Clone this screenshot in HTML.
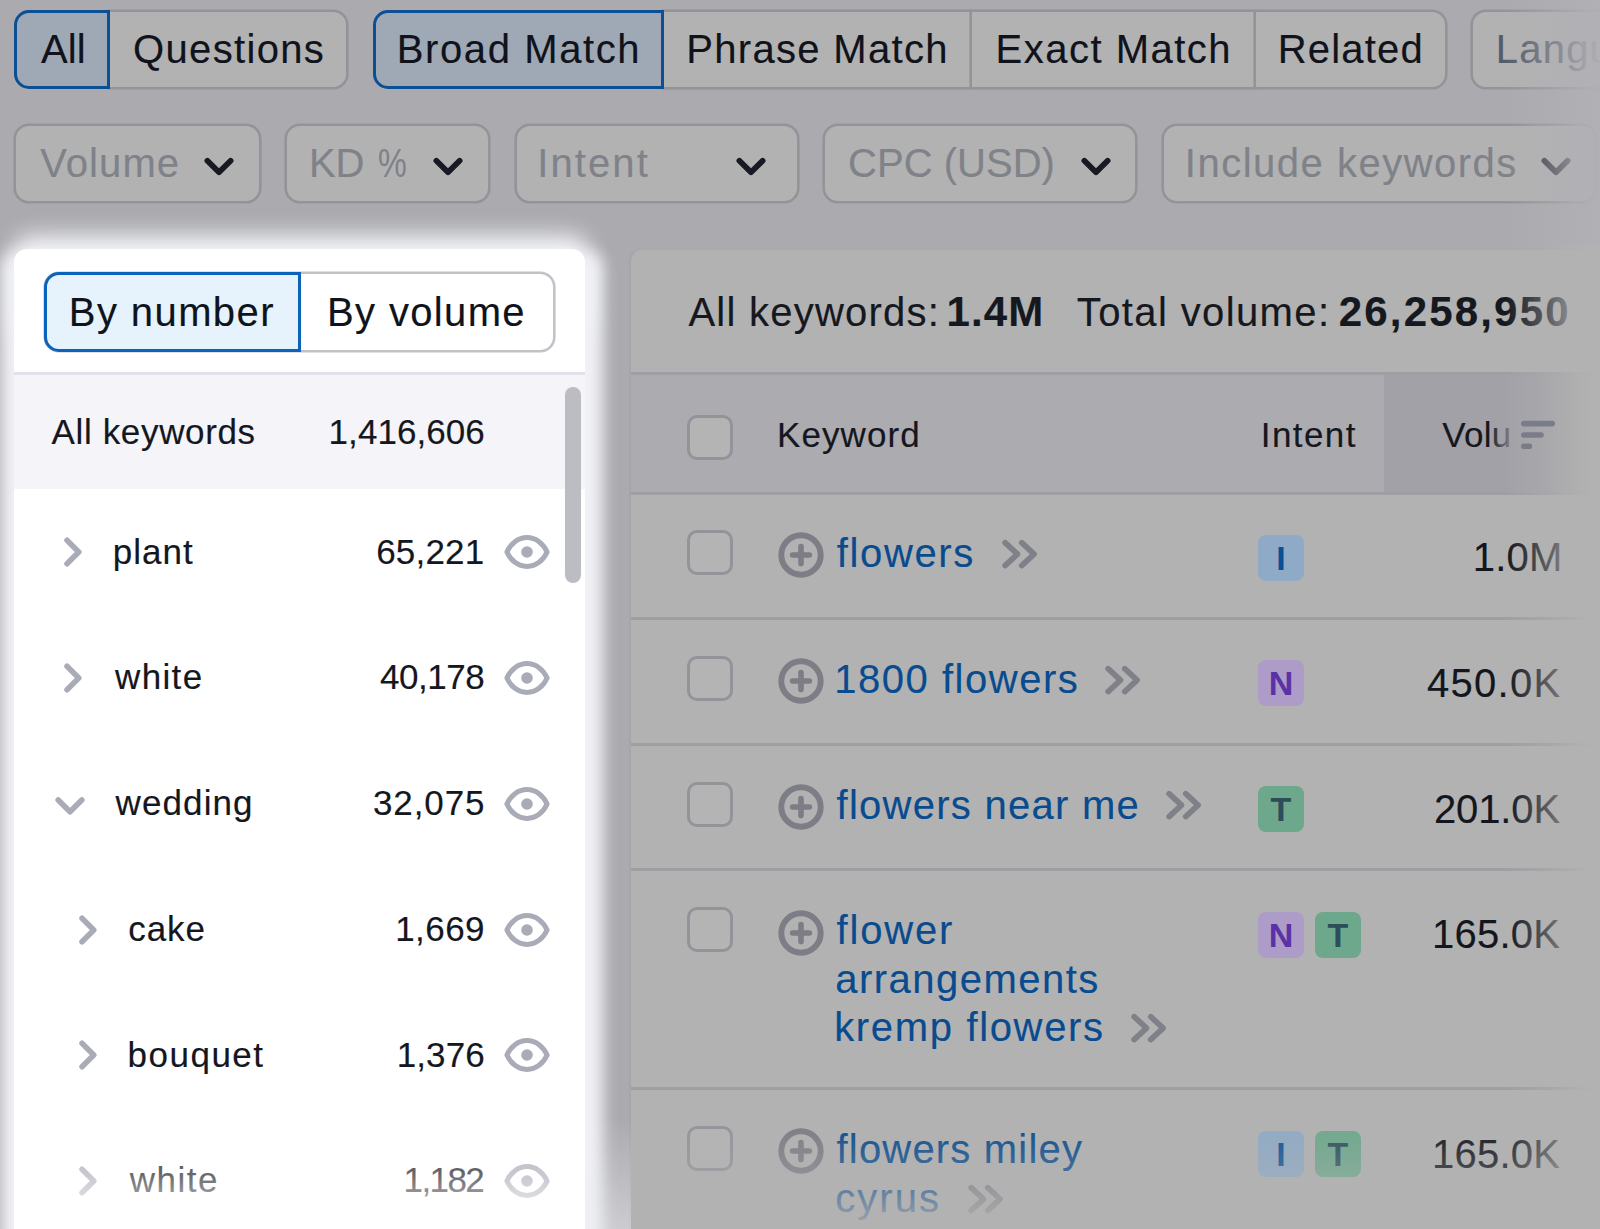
<!DOCTYPE html>
<html lang="en">
<head>
<meta charset="utf-8">
<title>Keyword Magic Tool</title>
<style>
*{box-sizing:border-box;margin:0;padding:0}
html,body{width:1600px;height:1229px;overflow:hidden}
body{position:relative;background:#abaaaf;font-family:"Liberation Sans",sans-serif;color:#13151c}
.abs{position:absolute}
.t,.s,.h,.k,.v{position:absolute;white-space:nowrap;line-height:48px;z-index:3;-webkit-text-stroke:.15px currentColor}
.t{font-size:40px;color:#10131b}
.t.g{color:#7f8289}
.s{font-size:35px;color:#15171e}
.h{font-size:40px;color:#16181f}
.k{font-size:40px;color:#094b8f}
.v{font-size:40px;color:#14161d}
.pill{position:absolute;top:10px;height:79px;background:#b2b2b2;border:2px solid #949399;box-shadow:0 0 0 .6px #949399}
.pill.on{background:#9fa9b5;border:3px solid #0b4f95;box-shadow:none;z-index:2}
.flt{position:absolute;top:124px;height:79px;background:#b2b2b2;border:2px solid #949399;box-shadow:0 0 0 .6px #949399;border-radius:15px}
svg{position:absolute;overflow:visible;z-index:3}
#glow{position:absolute;left:1px;top:251px;width:602px;height:1030px;border-radius:16px;background:#f1f2f6;filter:blur(7.5px)}
#glow2{position:absolute;left:14px;top:235px;width:574px;height:100px;border-radius:16px;background:#f1f2f6;filter:blur(11px)}
#card{position:absolute;left:14px;top:249px;width:571px;height:1000px;border-radius:13px;background:#fff}
#panel{position:absolute;left:629px;top:248px;width:990px;height:1000px;border-radius:13px 0 0 0;background:#b2b2b2;border-left:2px solid #a5a5aa;border-top:2px solid #a8a8ad}
.cb{position:absolute;left:687px;width:46px;height:45px;border:3px solid #93949a;border-radius:10px;background:#b4b4b5}
.ln{position:absolute;left:631px;width:969px;height:3px;background:#9e9ea5}
.bd{position:absolute;width:46px;height:46px;border-radius:8px;font-weight:bold;font-size:34px;line-height:46px;text-align:center;z-index:3}
.bI{background:#8faac6;color:#0b4f94}
.bN{background:#ad9cc7;color:#5b32a6}
.bT{background:#6da88c;color:#2c4d5a}
.fade{position:absolute;z-index:5}
</style>
</head>
<body>
<div class="pill on" style="left:14px;width:96px;border-radius:15px 0 0 15px"></div>
<div class="pill" style="left:108px;width:240px;border-radius:0 15px 15px 0"></div>
<div class="pill on" style="left:373px;width:291px;border-radius:15px 0 0 15px"></div>
<div class="pill" style="left:662px;width:310px;border-radius:0"></div>
<div class="pill" style="left:970px;width:286px;border-radius:0"></div>
<div class="pill" style="left:1254px;width:193px;border-radius:0 15px 15px 0"></div>
<div class="pill" style="left:1471px;width:200px;border-radius:15px"></div>
<div class="flt" style="left:14px;width:247px"></div>
<div class="flt" style="left:285px;width:205px"></div>
<div class="flt" style="left:515px;width:284px"></div>
<div class="flt" style="left:823px;width:314px"></div>
<div class="flt" style="left:1162px;width:435px"></div>
<svg style="left:201.7px;top:155px" width="34" height="24" viewBox="0 0 34 24"><path d="M5.4 5.8 L17 17.3 L28.6 5.8" fill="none" stroke="#171a22" stroke-width="5.8" stroke-linecap="round" stroke-linejoin="round"/></svg>
<svg style="left:431px;top:155px" width="34" height="24" viewBox="0 0 34 24"><path d="M5.4 5.8 L17 17.3 L28.6 5.8" fill="none" stroke="#171a22" stroke-width="5.8" stroke-linecap="round" stroke-linejoin="round"/></svg>
<svg style="left:733.7px;top:155px" width="34" height="24" viewBox="0 0 34 24"><path d="M5.4 5.8 L17 17.3 L28.6 5.8" fill="none" stroke="#171a22" stroke-width="5.8" stroke-linecap="round" stroke-linejoin="round"/></svg>
<svg style="left:1078.5px;top:155px" width="34" height="24" viewBox="0 0 34 24"><path d="M5.4 5.8 L17 17.3 L28.6 5.8" fill="none" stroke="#171a22" stroke-width="5.8" stroke-linecap="round" stroke-linejoin="round"/></svg>
<svg style="left:1539.2px;top:155px" width="34" height="24" viewBox="0 0 34 24"><path d="M5.4 5.8 L17 17.3 L28.6 5.8" fill="none" stroke="#2a2d36" stroke-width="5.8" stroke-linecap="round" stroke-linejoin="round"/></svg>
<div id="glow2"></div><div id="glow"></div><div id="card"></div>
<div class="abs" style="left:44px;top:272px;width:511px;height:80px;border:2px solid #c2c3c8;box-shadow:0 0 0 .6px #c2c3c8;border-radius:15px;background:#fff"></div>
<div class="abs" style="left:44px;top:272px;width:257px;height:80px;border:3px solid #0c63ba;border-radius:15px 0 0 15px;background:#e6f3fc"></div>
<div class="abs" style="left:14px;top:372px;width:571px;height:3px;background:#e1e2e9"></div>
<div class="abs" style="left:14px;top:375px;width:571px;height:114px;background:#f4f4f9"></div>
<div class="abs" style="left:565px;top:387px;width:16px;height:196px;border-radius:8px;background:#bcbdc2"></div>
<svg style="left:60.9px;top:535.2px" width="24" height="34" viewBox="0 0 24 34"><path d="M6 5.2 L17.8 17 L6 28.8" fill="none" stroke="#a9abb7" stroke-width="5.5" stroke-linecap="round" stroke-linejoin="round"/></svg>
<svg style="left:502.3px;top:533.2px" width="50" height="38" viewBox="0 0 50 38"><path d="M4.9 19 C8.6 10.6 16 4.6 25 4.6 S41.4 10.6 45.1 19 C41.4 27.4 34 33.4 25 33.4 S8.6 27.4 4.9 19 Z" fill="none" stroke="#a9abb7" stroke-width="5" stroke-linejoin="round"/><circle cx="25" cy="19" r="5.8" fill="#a9abb7"/></svg>
<svg style="left:60.9px;top:661.0px" width="24" height="34" viewBox="0 0 24 34"><path d="M6 5.2 L17.8 17 L6 28.8" fill="none" stroke="#a9abb7" stroke-width="5.5" stroke-linecap="round" stroke-linejoin="round"/></svg>
<svg style="left:502.3px;top:659.0px" width="50" height="38" viewBox="0 0 50 38"><path d="M4.9 19 C8.6 10.6 16 4.6 25 4.6 S41.4 10.6 45.1 19 C41.4 27.4 34 33.4 25 33.4 S8.6 27.4 4.9 19 Z" fill="none" stroke="#a9abb7" stroke-width="5" stroke-linejoin="round"/><circle cx="25" cy="19" r="5.8" fill="#a9abb7"/></svg>
<svg style="left:53.3px;top:793.9px" width="34" height="24" viewBox="0 0 34 24"><path d="M5.2 6 L17 17.8 L28.8 6" fill="none" stroke="#a9abb7" stroke-width="5.6" stroke-linecap="round" stroke-linejoin="round"/></svg>
<svg style="left:502.3px;top:784.7px" width="50" height="38" viewBox="0 0 50 38"><path d="M4.9 19 C8.6 10.6 16 4.6 25 4.6 S41.4 10.6 45.1 19 C41.4 27.4 34 33.4 25 33.4 S8.6 27.4 4.9 19 Z" fill="none" stroke="#a9abb7" stroke-width="5" stroke-linejoin="round"/><circle cx="25" cy="19" r="5.8" fill="#a9abb7"/></svg>
<svg style="left:75.8px;top:912.5px" width="24" height="34" viewBox="0 0 24 34"><path d="M6 5.2 L17.8 17 L6 28.8" fill="none" stroke="#a9abb7" stroke-width="5.5" stroke-linecap="round" stroke-linejoin="round"/></svg>
<svg style="left:502.3px;top:910.5px" width="50" height="38" viewBox="0 0 50 38"><path d="M4.9 19 C8.6 10.6 16 4.6 25 4.6 S41.4 10.6 45.1 19 C41.4 27.4 34 33.4 25 33.4 S8.6 27.4 4.9 19 Z" fill="none" stroke="#a9abb7" stroke-width="5" stroke-linejoin="round"/><circle cx="25" cy="19" r="5.8" fill="#a9abb7"/></svg>
<svg style="left:75.8px;top:1038.2px" width="24" height="34" viewBox="0 0 24 34"><path d="M6 5.2 L17.8 17 L6 28.8" fill="none" stroke="#a9abb7" stroke-width="5.5" stroke-linecap="round" stroke-linejoin="round"/></svg>
<svg style="left:502.3px;top:1036.2px" width="50" height="38" viewBox="0 0 50 38"><path d="M4.9 19 C8.6 10.6 16 4.6 25 4.6 S41.4 10.6 45.1 19 C41.4 27.4 34 33.4 25 33.4 S8.6 27.4 4.9 19 Z" fill="none" stroke="#a9abb7" stroke-width="5" stroke-linejoin="round"/><circle cx="25" cy="19" r="5.8" fill="#a9abb7"/></svg>
<svg style="left:75.8px;top:1164.0px" width="24" height="34" viewBox="0 0 24 34"><path d="M6 5.2 L17.8 17 L6 28.8" fill="none" stroke="#a9abb7" stroke-width="5.5" stroke-linecap="round" stroke-linejoin="round"/></svg>
<svg style="left:502.3px;top:1162.0px" width="50" height="38" viewBox="0 0 50 38"><path d="M4.9 19 C8.6 10.6 16 4.6 25 4.6 S41.4 10.6 45.1 19 C41.4 27.4 34 33.4 25 33.4 S8.6 27.4 4.9 19 Z" fill="none" stroke="#a9abb7" stroke-width="5" stroke-linejoin="round"/><circle cx="25" cy="19" r="5.8" fill="#a9abb7"/></svg>
<div id="panel"></div>
<div class="ln" style="top:372px"></div>
<div class="abs" style="left:631px;top:375px;width:969px;height:117px;background:#acabb0"></div>
<div class="abs" style="left:1384px;top:375px;width:216px;height:117px;background:#a1a1a7"></div>
<div class="ln" style="top:492px"></div>
<div class="cb" style="top:415px"></div>
<svg style="left:1519px;top:420px;z-index:6" width="38" height="32" viewBox="0 0 38 32"><path d="M4.8 3.6H33.2M4.8 15H22M4.8 26.3H10.4" stroke="#7a7c8a" stroke-width="5.6" stroke-linecap="round"/></svg>
<div class="fade" style="left:1488px;top:410px;width:24px;height:48px;z-index:4;background:linear-gradient(90deg,rgba(161,161,167,0),rgba(161,161,167,.8))"></div>
<div class="ln" style="top:617px"></div>
<div class="ln" style="top:743px"></div>
<div class="ln" style="top:868px"></div>
<div class="ln" style="top:1087px"></div>
<div class="cb" style="top:529.8px"></div>
<svg style="left:778.4px;top:532.0px" width="46" height="46" viewBox="0 0 46 46"><circle cx="23" cy="23" r="19.7" fill="none" stroke="#7c7d85" stroke-width="5.9"/><path d="M23 14.6V31.4M14.6 23H31.4" stroke="#7c7d85" stroke-width="5.6" stroke-linecap="round"/></svg>
<div class="bd bI" style="left:1258px;top:534.6px">I</div>
<svg style="left:1001.6px;top:538.8px" width="38" height="32" viewBox="0 0 38 32"><path d="M3.1 3.6 L15.5 15.1 L3.1 26.6 M19.7 3.6 L32.1 15.1 L19.7 26.6" fill="none" stroke="#7f8088" stroke-width="5.6" stroke-linecap="round" stroke-linejoin="round"/></svg>
<div class="cb" style="top:655.6px"></div>
<svg style="left:778.4px;top:657.8px" width="46" height="46" viewBox="0 0 46 46"><circle cx="23" cy="23" r="19.7" fill="none" stroke="#7c7d85" stroke-width="5.9"/><path d="M23 14.6V31.4M14.6 23H31.4" stroke="#7c7d85" stroke-width="5.6" stroke-linecap="round"/></svg>
<div class="bd bN" style="left:1258px;top:660.4px">N</div>
<svg style="left:1105.4px;top:664.5px" width="38" height="32" viewBox="0 0 38 32"><path d="M3.1 3.6 L15.5 15.1 L3.1 26.6 M19.7 3.6 L32.1 15.1 L19.7 26.6" fill="none" stroke="#7f8088" stroke-width="5.6" stroke-linecap="round" stroke-linejoin="round"/></svg>
<div class="cb" style="top:781.6px"></div>
<svg style="left:778.4px;top:783.8px" width="46" height="46" viewBox="0 0 46 46"><circle cx="23" cy="23" r="19.7" fill="none" stroke="#7c7d85" stroke-width="5.9"/><path d="M23 14.6V31.4M14.6 23H31.4" stroke="#7c7d85" stroke-width="5.6" stroke-linecap="round"/></svg>
<div class="bd bT" style="left:1258px;top:786.4px">T</div>
<svg style="left:1165.6px;top:790.3px" width="38" height="32" viewBox="0 0 38 32"><path d="M3.1 3.6 L15.5 15.1 L3.1 26.6 M19.7 3.6 L32.1 15.1 L19.7 26.6" fill="none" stroke="#7f8088" stroke-width="5.6" stroke-linecap="round" stroke-linejoin="round"/></svg>
<div class="cb" style="top:907.4px"></div>
<svg style="left:778.4px;top:909.6px" width="46" height="46" viewBox="0 0 46 46"><circle cx="23" cy="23" r="19.7" fill="none" stroke="#7c7d85" stroke-width="5.9"/><path d="M23 14.6V31.4M14.6 23H31.4" stroke="#7c7d85" stroke-width="5.6" stroke-linecap="round"/></svg>
<div class="bd bN" style="left:1258px;top:912.2px">N</div>
<div class="bd bT" style="left:1315px;top:912.2px">T</div>
<svg style="left:1131.1px;top:1012.5px" width="38" height="32" viewBox="0 0 38 32"><path d="M3.1 3.6 L15.5 15.1 L3.1 26.6 M19.7 3.6 L32.1 15.1 L19.7 26.6" fill="none" stroke="#7f8088" stroke-width="5.6" stroke-linecap="round" stroke-linejoin="round"/></svg>
<div class="cb" style="top:1125.8px"></div>
<svg style="left:778.4px;top:1128.0px" width="46" height="46" viewBox="0 0 46 46"><circle cx="23" cy="23" r="19.7" fill="none" stroke="#7c7d85" stroke-width="5.9"/><path d="M23 14.6V31.4M14.6 23H31.4" stroke="#7c7d85" stroke-width="5.6" stroke-linecap="round"/></svg>
<div class="bd bI" style="left:1258px;top:1130.6px">I</div>
<div class="bd bT" style="left:1315px;top:1130.6px">T</div>
<svg style="left:967.6px;top:1183.8px" width="38" height="32" viewBox="0 0 38 32"><path d="M3.1 3.6 L15.5 15.1 L3.1 26.6 M19.7 3.6 L32.1 15.1 L19.7 26.6" fill="none" stroke="#7f8088" stroke-width="5.6" stroke-linecap="round" stroke-linejoin="round"/></svg>
<div class="fade" style="left:14px;top:1118px;width:571px;height:111px;background:linear-gradient(180deg,rgba(255,255,255,0),rgba(255,255,255,.36) 52%,rgba(255,255,255,.74) 85%,rgba(255,255,255,.9))"></div>
<div class="fade" style="left:585px;top:1118px;width:46px;height:111px;background:linear-gradient(180deg,rgba(236,237,241,0),rgba(236,237,241,.5))"></div>
<div class="fade" style="left:631px;top:1118px;width:969px;height:111px;background:linear-gradient(180deg,rgba(178,178,178,0),rgba(178,178,178,.36) 52%,rgba(178,178,178,.74) 85%,rgba(178,178,178,.9))"></div>
<div class="fade" style="left:1500px;top:0;width:100px;height:243px;background:linear-gradient(90deg,rgba(177,176,181,0) 5%,rgba(177,176,181,.42) 46%,rgba(177,176,181,.8) 80%,rgba(177,176,181,.96))"></div>
<div class="fade" style="left:1500px;top:243px;width:100px;height:986px;background:linear-gradient(90deg,rgba(178,178,178,0) 5%,rgba(178,178,178,.45) 48%,rgba(178,178,178,.87) 80%,#b2b2b2 96%)"></div>
<span class="t" style="left:41.0px;top:25.3px;letter-spacing:0.12px">All</span>
<span class="t" style="left:133.0px;top:25.3px;letter-spacing:1.34px">Questions</span>
<span class="t" style="left:396.8px;top:25.3px;letter-spacing:1.60px">Broad Match</span>
<span class="t" style="left:686.2px;top:25.3px;letter-spacing:1.32px">Phrase Match</span>
<span class="t" style="left:995.5px;top:25.3px;letter-spacing:1.50px">Exact Match</span>
<span class="t" style="left:1277.8px;top:25.3px;letter-spacing:1.17px">Related</span>
<span class="t g" style="left:1495.8px;top:25.3px;letter-spacing:1.20px;color:#545c6a">Languages</span>
<span class="t g" style="left:40.2px;top:139.3px;letter-spacing:1.10px">Volume</span>
<span class="t g" style="left:309.1px;top:139.3px;letter-spacing:-0.30px">KD</span>
<span class="t g" style="left:377.8px;top:139.3px;letter-spacing:0.00px;transform:scaleX(0.812);transform-origin:0 50%">%</span>
<span class="t g" style="left:537.2px;top:139.3px;letter-spacing:2.10px">Intent</span>
<span class="t g" style="left:848.0px;top:139.3px;letter-spacing:0.03px">CPC (USD)</span>
<span class="t g" style="left:1184.8px;top:139.3px;letter-spacing:1.50px">Include keywords</span>
<span class="t" style="left:68.8px;top:288.1px;letter-spacing:1.41px">By number</span>
<span class="t" style="left:327.1px;top:288.1px;letter-spacing:1.34px">By volume</span>
<span class="s" style="left:51.5px;top:408.2px;letter-spacing:0.65px">All keywords</span>
<span class="s" style="left:328.6px;top:408.2px;letter-spacing:0.05px">1,416,606</span>
<span class="s" style="left:112.8px;top:527.5px;letter-spacing:1.00px">plant</span>
<span class="s" style="left:376.2px;top:527.5px;letter-spacing:0.20px">65,221</span>
<span class="s" style="left:115.0px;top:653.3px;letter-spacing:1.36px">white</span>
<span class="s" style="left:379.9px;top:653.3px;letter-spacing:-0.47px">40,178</span>
<span class="s" style="left:115.6px;top:779.0px;letter-spacing:1.09px">wedding</span>
<span class="s" style="left:372.9px;top:779.0px;letter-spacing:0.91px">32,075</span>
<span class="s" style="left:128.3px;top:904.8px;letter-spacing:0.88px">cake</span>
<span class="s" style="left:395.2px;top:904.8px;letter-spacing:0.44px">1,669</span>
<span class="s" style="left:127.6px;top:1030.5px;letter-spacing:1.48px">bouquet</span>
<span class="s" style="left:396.8px;top:1030.5px;letter-spacing:0.06px">1,376</span>
<span class="s" style="left:129.8px;top:1156.3px;letter-spacing:1.49px">white</span>
<span class="s" style="left:403.6px;top:1156.3px;letter-spacing:-1.60px">1,182</span>
<span class="h" style="left:688.4px;top:288.4px;letter-spacing:1.24px">All keywords:</span>
<span class="h" style="left:946.6px;top:287.7px;letter-spacing:1.08px;font-weight:bold;font-size:42px">1.4M</span>
<span class="h" style="left:1076.8px;top:288.4px;letter-spacing:1.38px">Total volume:</span>
<span class="h" style="left:1338.8px;top:287.7px;letter-spacing:2.17px;font-weight:bold;font-size:42px">26,258,950</span>
<span class="s" style="left:777.0px;top:410.5px;letter-spacing:1.09px">Keyword</span>
<span class="s" style="left:1260.8px;top:410.5px;letter-spacing:1.40px">Intent</span>
<span class="s" style="left:1442.2px;top:410.5px;letter-spacing:0.33px">Volu</span>
<span class="k" style="left:836.7px;top:529.3px;letter-spacing:1.66px">flowers</span>
<span class="k" style="left:834.2px;top:654.9px;letter-spacing:1.53px">1800 flowers</span>
<span class="k" style="left:836.5px;top:780.7px;letter-spacing:1.27px">flowers near me</span>
<span class="k" style="left:836.5px;top:906.0px;letter-spacing:1.84px">flower</span>
<span class="k" style="left:835.2px;top:954.5px;letter-spacing:1.48px">arrangements</span>
<span class="k" style="left:834.2px;top:1002.9px;letter-spacing:1.66px">kremp flowers</span>
<span class="k" style="left:836.5px;top:1125.3px;letter-spacing:1.19px">flowers miley</span>
<span class="k" style="left:835.2px;top:1174.1px;letter-spacing:2.06px">cyrus</span>
<span class="v" style="left:1472.8px;top:533.3px;letter-spacing:0.22px">1.0M</span>
<span class="v" style="left:1427.0px;top:659.0px;letter-spacing:1.27px">450.0K</span>
<span class="v" style="left:1434.0px;top:784.5px;letter-spacing:-0.13px">201.0K</span>
<span class="v" style="left:1432.0px;top:910.3px;letter-spacing:0.23px">165.0K</span>
<span class="v" style="left:1432.0px;top:1130.4px;letter-spacing:0.23px">165.0K</span>
</body>
</html>
